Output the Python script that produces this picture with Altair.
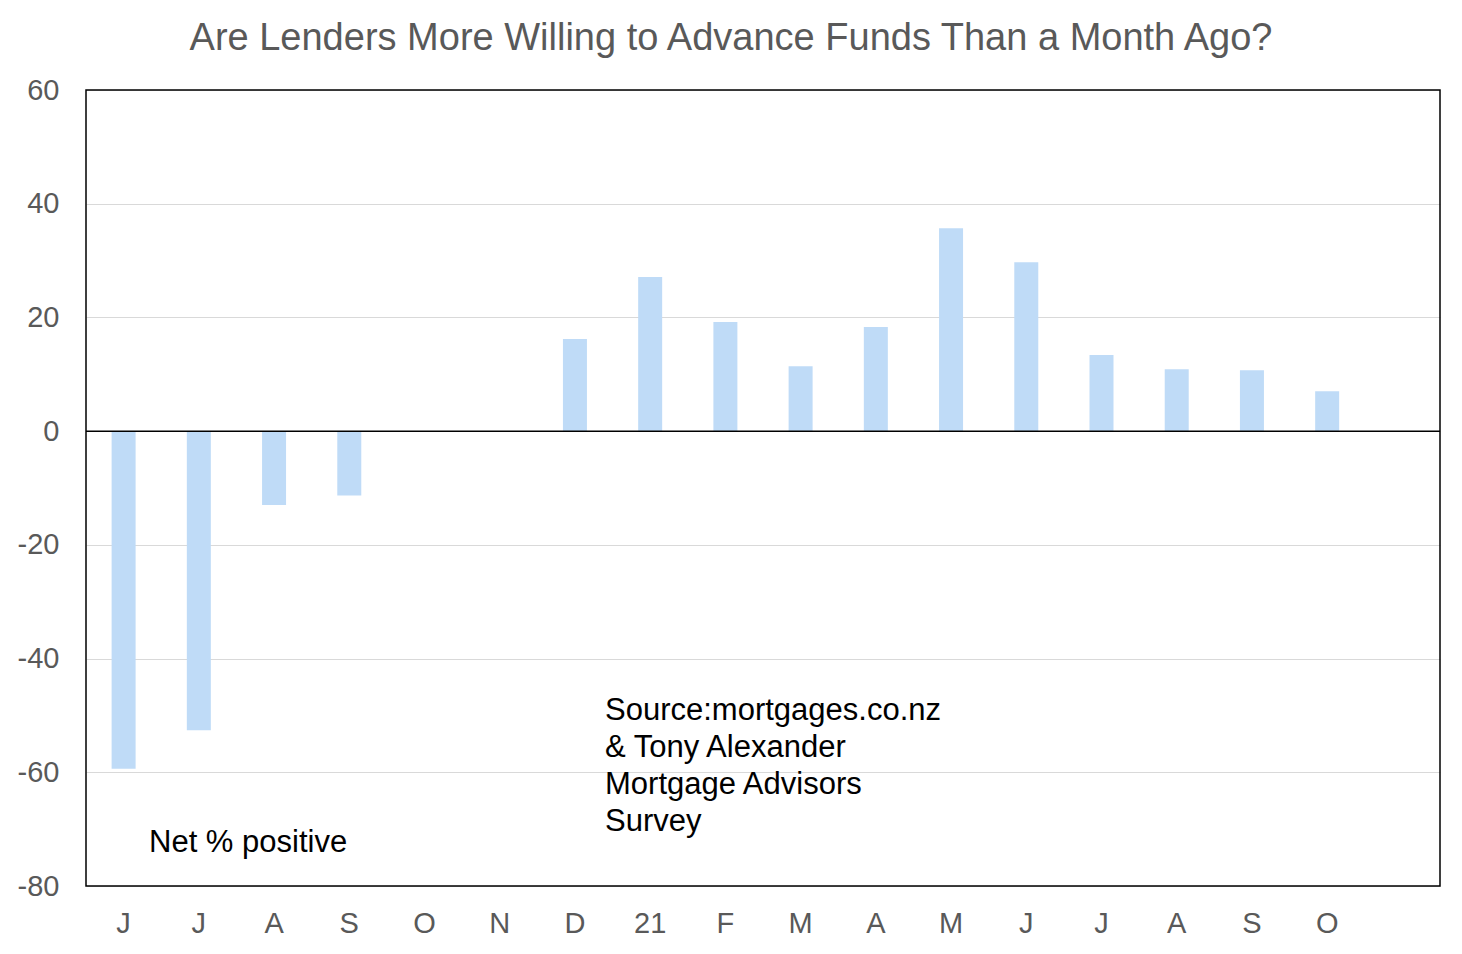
import altair as alt
import pandas as pd

# Data (Jun 2020 .. Nov 2021)
month_index = list(range(18))
month_labels = ["J", "J", "A", "S", "O", "N", "D", "21", "F", "M", "A", "M", "J", "J", "A", "S", "O", ""]
net_positive = [-59.4, -52.6, -13.0, -11.3, None, None, 16.2, 27.1, 19.2, 11.4, 18.3, 35.7, 29.7, 13.4, 10.9, 10.7, 7.0, None]
y_ticks = [-80, -60, -40, -20, 0, 20, 40, 60]

df = pd.DataFrame({"idx": month_index, "label": month_labels, "value": net_positive})

FONT = "Liberation Sans"
GRAY = "#595959"
W, H = 1354, 796

label_expr = "[" + ",".join("'" + l + "'" for l in month_labels) + "][datum.value]"

x_enc = alt.X(
    "idx:O",
    scale=alt.Scale(domain=month_index, paddingInner=0, paddingOuter=0),
    axis=alt.Axis(
        title=None, labelExpr=label_expr, labelAngle=0, ticks=False, domain=False,
        grid=False, labelFont=FONT, labelFontSize=29, labelColor=GRAY, labelPadding=23,
    ),
)

y_scale = alt.Scale(domain=[-80, 60], nice=False, zero=False)

bars = alt.Chart(df).mark_bar(color="#BFDBF7", size=24).encode(
    x=x_enc,
    y=alt.Y(
        "value:Q",
        scale=y_scale,
        axis=alt.Axis(
            title=None, values=y_ticks, ticks=False, domain=False,
            labelExpr="toString(datum.value)",
            grid=True, gridColor="#D9D9D9", gridWidth=1.2,
            labelFont=FONT, labelFontSize=29, labelColor=GRAY, labelPadding=27,
        ),
    ),
)

zero_df = pd.DataFrame({"z": [0]})
zero_line = alt.Chart(zero_df).mark_rule(color="black", strokeWidth=1.5).encode(
    y=alt.Y("z:Q", scale=y_scale)
)

frame = alt.Chart(zero_df).mark_rect(fill=None, fillOpacity=0, stroke="black", strokeWidth=1.5).encode(
    x=alt.value(0), x2=alt.value(W), y=alt.value(0), y2=alt.value(H)
)

net_df = pd.DataFrame({"t": ["Net % positive"]})
net_text = alt.Chart(net_df).mark_text(
    align="left", baseline="top", font=FONT, fontSize=31, color="black"
).encode(text="t:N", x=alt.value(63), y=alt.value(738))

src_lines = ["Source:mortgages.co.nz", "& Tony Alexander", "Mortgage Advisors", "Survey"]
src_df = pd.DataFrame({"t": [src_lines]})
src_text = alt.Chart(src_df).mark_text(
    align="left", baseline="top", font=FONT, fontSize=31, color="black", lineHeight=37
).encode(text="t", x=alt.value(519), y=alt.value(606))

chart = alt.layer(bars, zero_line, frame, net_text, src_text).properties(
    width=W,
    height=H,
    background="white",
    title=alt.TitleParams(
        "Are Lenders More Willing to Advance Funds Than a Month Ago?",
        font=FONT, fontSize=38, fontWeight="normal", color=GRAY,
        anchor="middle", dx=-32, offset=18,
    ),
    autosize=alt.AutoSizeParams(type="none"),
    padding={"left": 78, "top": 82, "right": 14, "bottom": 60},
).configure_view(
    stroke=None
)

chart.save("out.html", embed_options={"renderer": "svg", "actions": False})
